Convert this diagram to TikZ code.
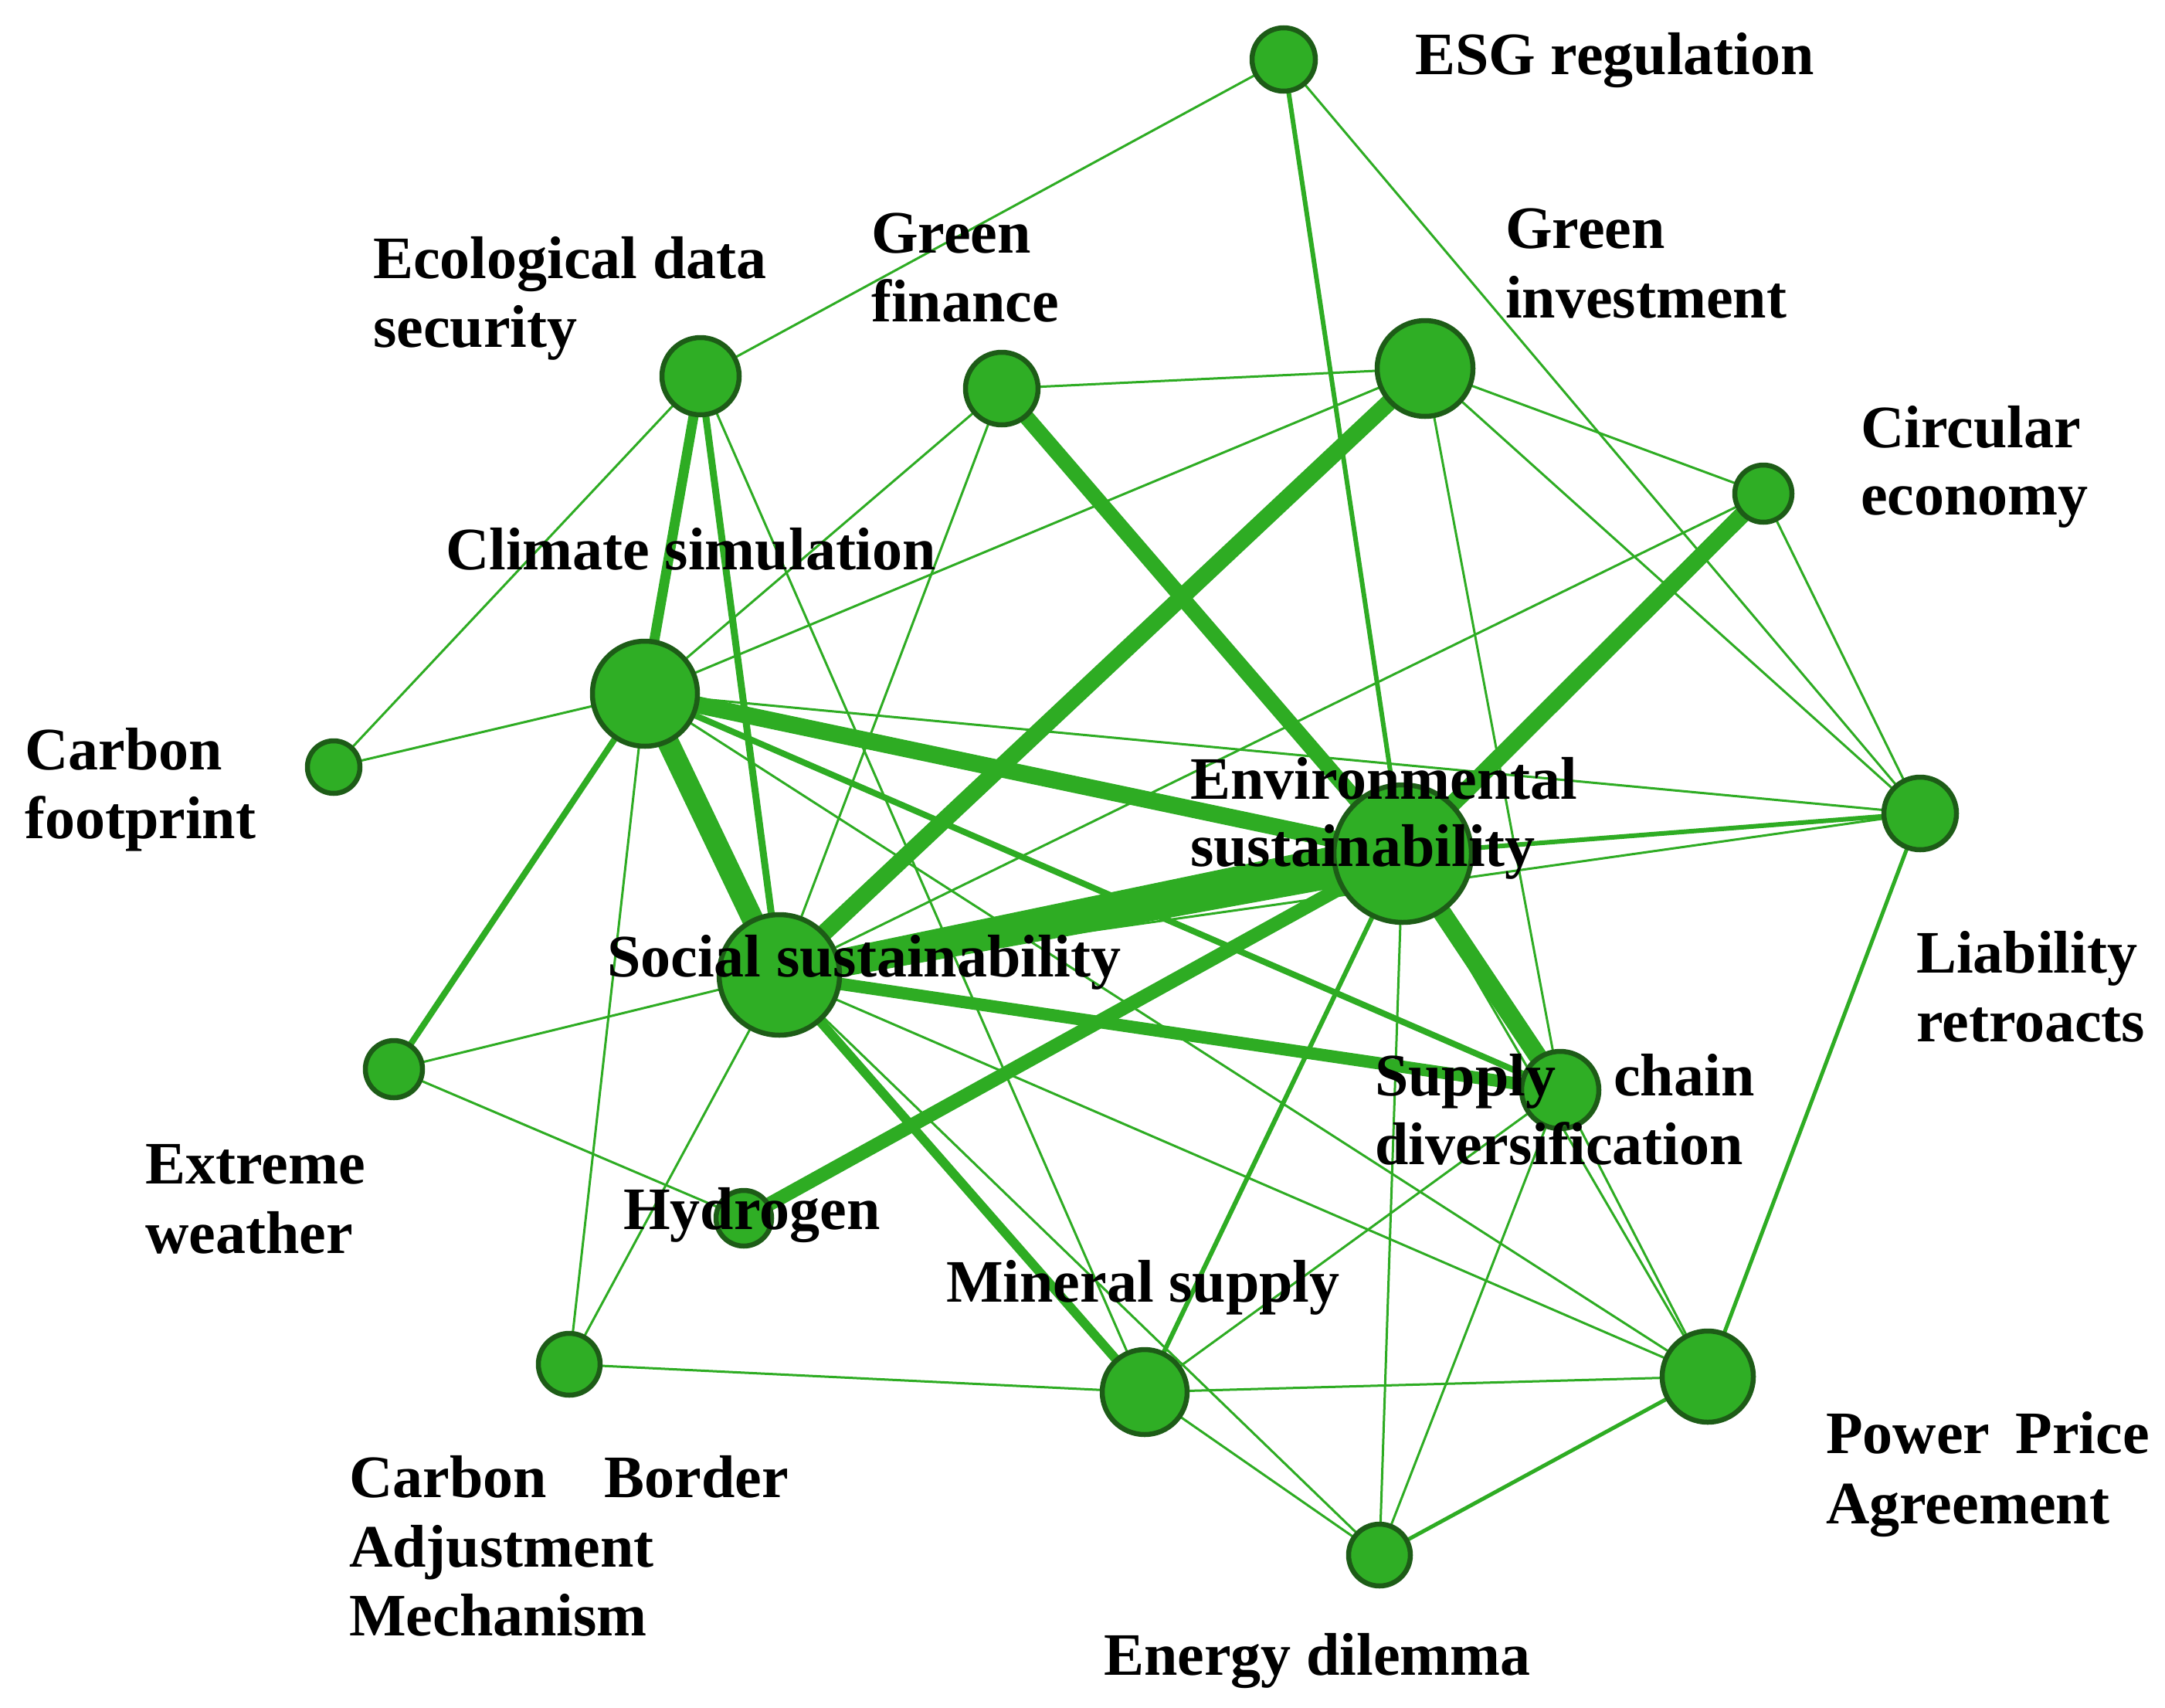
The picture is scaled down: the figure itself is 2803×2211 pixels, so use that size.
\documentclass[tikz,border=0pt]{standalone}
\usepackage{fontspec}
\setmainfont{Liberation Serif}
\usetikzlibrary{calc}
\pgfdeclarelayer{background}
\pgfsetlayers{background,main}
\definecolor{edgegreen}{RGB}{46,172,35}
\definecolor{nodegreen}{RGB}{47,174,37}
\definecolor{nodeborder}{RGB}{29,92,23}
\tikzset{
  vtx/.style={circle, fill=nodegreen, draw=nodeborder, line width=6.5pt, inner sep=0pt, minimum size=#1},
  lbl/.style={anchor=base west, inner sep=0pt, font=\bfseries\fontsize{78}{89}\selectfont},
  link/.style={draw=edgegreen, line width=#1},
  link/.default=3pt,
}
\begin{document}
\begin{tikzpicture}[x=1pt,y=-1pt]
\useasboundingbox (0,0) rectangle (2803,2211);
% nodes
\node[vtx=82]  (esg)  at (1662,77)   {};
\node[vtx=100] (eco)  at (907,487)   {};
\node[vtx=94]  (gf)   at (1297,503)  {};
\node[vtx=124] (gi)   at (1845,477)  {};
\node[vtx=74]  (ce)   at (2283,639)  {};
\node[vtx=136] (cs)   at (835,898)   {};
\node[vtx=68]  (cf)   at (432,993)   {};
\node[vtx=178] (es)   at (1816,1105) {};
\node[vtx=94]  (lr)   at (2486,1053) {};
\node[vtx=156] (ss)   at (1009,1262) {};
\node[vtx=74]  (ew)   at (510,1384)  {};
\node[vtx=100] (sc)   at (2020,1411) {};
\node[vtx=72]  (hy)   at (963,1577)  {};
\node[vtx=80]  (cbam) at (737,1766)  {};
\node[vtx=110] (ms)   at (1482,1802) {};
\node[vtx=118] (ppa)  at (2211,1782) {};
\node[vtx=80]  (ed)   at (1786,2013) {};
% edges
\begin{pgfonlayer}{background}
\fill[white] (0,0) rectangle (2803,2211);
\draw[link] (esg.center) -- (eco.center);
\draw[link=6pt] (esg.center) -- (es.center);
\draw[link] (esg.center) -- (lr.center);
\draw[link] (eco.center) -- (cf.center);
\draw[link=13pt] (eco.center) -- (cs.center);
\draw[link=9pt] (eco.center) -- (ss.center);
\draw[link] (eco.center) -- (ms.center);
\draw[link] (gf.center) -- (gi.center);
\draw[link=20pt] (gf.center) -- (es.center);
\draw[link] (gf.center) -- (cs.center);
\draw[link] (gf.center) -- (ss.center);
\draw[link=22pt] (gi.center) -- (ss.center);
\draw[link] (gi.center) -- (cs.center);
\draw[link] (gi.center) -- (ce.center);
\draw[link] (gi.center) -- (lr.center);
\draw[link] (gi.center) -- (sc.center);
\draw[link=22pt] (ce.center) -- (es.center);
\draw[link] (ce.center) -- (ss.center);
\draw[link] (ce.center) -- (lr.center);
\draw[link] (cs.center) -- (cf.center);
\draw[link=28pt] (cs.center) -- (ss.center);
\draw[link=22pt] (cs.center) -- (es.center);
\draw[link] (cs.center) -- (lr.center);
\draw[link=8pt] (cs.center) -- (sc.center);
\draw[link] (cs.center) -- (ppa.center);
\draw[link=8pt] (cs.center) -- (ew.center);
\draw[link] (cs.center) -- (cbam.center);
% tapered main band between Social and Environmental sustainability
\fill[edgegreen] ($(ss.center)!17pt!90:(es.center)$) -- ($(es.center)!28pt!-90:(ss.center)$)
  -- ($(es.center)!28pt!90:(ss.center)$) -- ($(ss.center)!17pt!-90:(es.center)$) -- cycle;
\draw[link=24pt] (es.center) -- (sc.center);
\draw[link=18pt] (es.center) -- (hy.center);
\draw[link=6pt] (es.center) -- (ms.center);
\draw[link] (es.center) -- (ed.center);
\draw[link=6pt] (es.center) -- (lr.center);
\draw[link] (es.center) -- (ppa.center);
\draw[link] (ss.center) -- (lr.center);
\draw[link=16pt] (ss.center) -- (sc.center);
\draw[link=12pt] (ss.center) -- (ms.center);
\draw[link] (ss.center) -- (ppa.center);
\draw[link] (ss.center) -- (ed.center);
\draw[link] (ss.center) -- (cbam.center);
\draw[link] (ss.center) -- (ew.center);
\draw[link] (ew.center) -- (hy.center);
\draw[link] (cbam.center) -- (ms.center);
\draw[link] (ms.center) -- (ppa.center);
\draw[link] (ms.center) -- (ed.center);
\draw[link] (ms.center) -- (sc.center);
\draw[link] (sc.center) -- (ppa.center);
\draw[link] (sc.center) -- (ed.center);
\draw[link=5pt] (ed.center) -- (ppa.center);
\draw[link=5pt] (lr.center) -- (ppa.center);
\end{pgfonlayer}
% labels
\node[lbl] (esgL)   at (1832,96)   {ESG regulation};
\node[lbl] (ecoL1)  at (483,360)   {Ecological data};
\node[lbl] (ecoL2)  at (483,449)   {security};
\node[lbl] (gfL1)   at (1128,327)  {Green};
\node[lbl] (gfL2)   at (1128,416)  {finance};
\node[lbl] (giL1)   at (1949,321)  {Green};
\node[lbl] (giL2)   at (1949,411)  {investment};
\node[lbl] (ceL1)   at (2409,579)  {Circular};
\node[lbl] (ceL2)   at (2409,666)  {economy};
\node[lbl] (csL)    at (577,737)   {Climate simulation};
\node[lbl] (cfL1)   at (32,996)    {Carbon};
\node[lbl] (cfL2)   at (32,1085)   {footprint};
\node[lbl] (esL1)   at (1541,1034) {Environmental};
\node[lbl] (esL2)   at (1541,1121) {sustainability};
\node[lbl] (lrL1)   at (2481,1259) {Liability};
\node[lbl] (lrL2)   at (2481,1348) {retroacts};
\node[lbl] (ssL)    at (786,1264)  {Social sustainability};
\node[lbl] (scL1)   at (1780,1418) {Supply\hspace{75pt}chain};
\node[lbl] (scL2)   at (1780,1507) {diversification};
\node[lbl] (ewL1)   at (188,1532)  {Extreme};
\node[lbl] (ewL2)   at (188,1622)  {weather};
\node[lbl] (hyL)    at (807,1591)  {Hydrogen};
\node[lbl] (cbamL1) at (452,1938)  {Carbon\hspace{75pt}Border};
\node[lbl] (cbamL2) at (452,2028)  {Adjustment};
\node[lbl] (cbamL3) at (452,2117)  {Mechanism};
\node[lbl] (msL)    at (1225,1685) {Mineral supply};
\node[lbl] (edL)    at (1429,2168) {Energy dilemma};
\node[lbl] (ppaL1)  at (2364,1881) {Power\hspace{33pt}Price};
\node[lbl] (ppaL2)  at (2364,1972) {Agreement};
\end{tikzpicture}
\end{document}
